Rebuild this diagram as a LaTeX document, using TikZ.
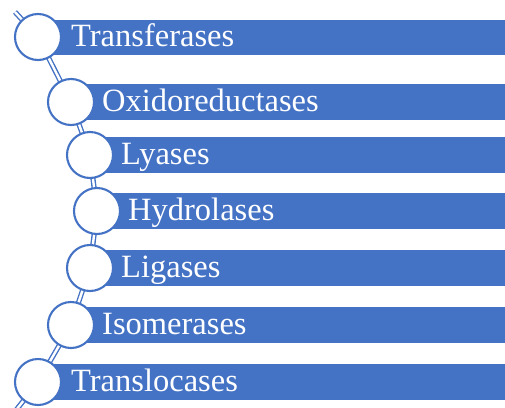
\documentclass[tikz,border=0pt]{standalone}
\usepackage{fontspec}
\setmainfont{Liberation Serif}
\usetikzlibrary{calc}
\definecolor{accent}{HTML}{4472C4}
\tikzset{%
  link/.style={draw=accent,line width=1.4pt,double=white,double distance=2.4pt},%
  dot/.style={circle,draw=accent,line width=2.1pt,fill=white,minimum size=46pt,inner sep=0pt},%
  lbl/.style={anchor=base west,inner sep=0pt,text=white,font=\fontsize{32.5}{32.5}\selectfont}%
}

\begin{document}
\begin{tikzpicture}[x=1pt,y=-1pt]
      \useasboundingbox (0,0) rectangle (505,407);
      \coordinate (c1) at (38,37);% transferases
      \coordinate (c2) at (71,102);% oxidoreductases
      \coordinate (c3) at (90,155);% lyases
      \coordinate (c4) at (97,211);% hydrolases
      \coordinate (c5) at (90,268);% ligases
      \coordinate (c6) at (71,325);% isomerases
      \coordinate (c7) at (38,382);% translocases
      \coordinate (top) at (15,12);
      \coordinate (bot) at (10,418);

      %chain
      \draw[link] (top) -- (c1) -- (c2) -- (c3) -- (c4) -- (c5) -- (c6) -- (c7) -- (bot);

      %bars
      \fill[accent] (c1) ++(0,-17.5) rectangle (510,54.5);
      \fill[accent] (c2) ++(0,-18) rectangle (510,120);
      \fill[accent] (c3) ++(0,-18) rectangle (510,173);
      \fill[accent] (c4) ++(0,-18) rectangle (510,229);
      \fill[accent] (c5) ++(0,-18) rectangle (510,286);
      \fill[accent] (c6) ++(0,-18) rectangle (510,343);
      \fill[accent] (c7) ++(0,-18) rectangle (510,400);

      %circles
      \node[dot] (d1) at (c1) {};
      \node[dot] (d2) at (c2) {};
      \node[dot] (d3) at (c3) {};
      \node[dot] (d4) at (c4) {};
      \node[dot] (d5) at (c5) {};
      \node[dot] (d6) at (c6) {};
      \node[dot] (d7) at (c7) {};

      %labels
      \node[lbl] (t1) at ($(c1)+(33,9.5)$) {Transferases};
      \node[lbl] (t2) at ($(c2)+(31,9.5)$) {Oxidoreductases};
      \node[lbl] (t3) at ($(c3)+(31,9.5)$) {Lyases};
      \node[lbl] (t4) at ($(c4)+(31,9.5)$) {Hydrolases};
      \node[lbl] (t5) at ($(c5)+(31,9.5)$) {Ligases};
      \node[lbl] (t6) at ($(c6)+(31,9.5)$) {Isomerases};
      \node[lbl] (t7) at ($(c7)+(33,9.5)$) {Translocases};
\end{tikzpicture}
\end{document}
